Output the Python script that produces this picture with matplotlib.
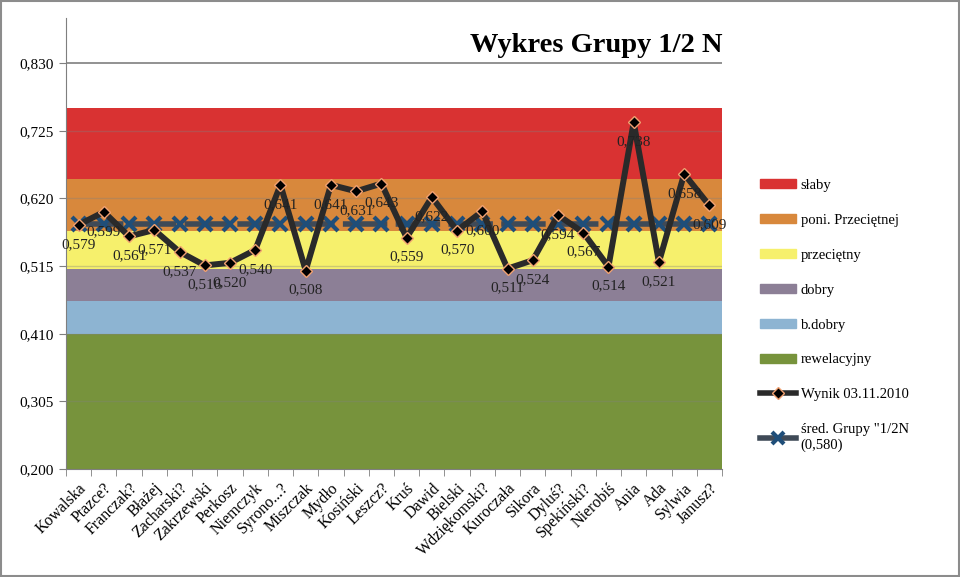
#!/usr/bin/env python3
"""
Wykres Grupy 1/2 N - wyniki na tle przedzialow ocen.
"""

import numpy as np
import matplotlib
matplotlib.use('Agg')
import matplotlib.pyplot as plt
from matplotlib.patches import Patch, Rectangle
from matplotlib.lines import Line2D

names = ['Kowalska', 'Ptazce?', 'Franczak?', 'Błażej', 'Zacharski?', 'Zakrzewski',
         'Perkosz', 'Niemczyk', 'Syrono...?', 'Miszczak', 'Mydło', 'Kosiński',
         'Leszcz?', 'Kruś', 'Dawid', 'Bielski', 'Wdziękomski?', 'Kuroczała',
         'Sikora', 'Dyluś?', 'Spekiński?', 'Nierobiś', 'Ania', 'Ada', 'Sylwia',
         'Janusz?']
wynik = [0.579, 0.599, 0.561, 0.571, 0.537, 0.516, 0.520, 0.540, 0.641, 0.508,
         0.641, 0.631, 0.643, 0.559, 0.622, 0.570, 0.600, 0.511, 0.524, 0.594,
         0.567, 0.514, 0.738, 0.521, 0.658, 0.609]
srednia = 0.580

# przedzialy ocen (od dolu do gory)
band_names = ['rewelacyjny', 'b.dobry', 'dobry', 'przeciętny', 'poni. Przeciętnej', 'słaby']
band_edges = [0.200, 0.410, 0.460, 0.510, 0.570, 0.650, 0.760]
band_colors = ['#77933c', '#8db4d2', '#8c7f96', '#f6f06c', '#d8883c', '#d93232']

y_ticks = [0.200, 0.305, 0.410, 0.515, 0.620, 0.725, 0.830]

serif = ['Liberation Serif', 'DejaVu Serif']
plt.rcParams['font.family'] = serif

fig = plt.figure(figsize=(9.6, 5.77), dpi=100)
ax = fig.add_axes([66 / 960, 1 - 469 / 577, 656 / 960, 451 / 577])

x = np.arange(len(names))
xspan = [-0.5, len(names) - 0.5]

# pasy ocen
for lo, hi, col in zip(band_edges[:-1], band_edges[1:], band_colors):
    ax.fill_between(xspan, lo, hi, color=col, linewidth=0, zorder=1)

# linie siatki
for t in y_ticks[1:]:
    if t == 0.830:
        ax.axhline(t, color='#7f7f7f', lw=1.2, zorder=2)
    else:
        ax.axhline(t, color='#808080', lw=1, alpha=0.35, zorder=2)

# srednia grupy
ax.plot(x, [srednia] * len(x), color='#3f4a57', lw=4, dashes=(8, 1.5),
        marker='x', ms=10, mew=3, mec='#1f4e79', zorder=3)

# wyniki
ax.plot(x, wynik, color='#2a2a2a', lw=4.3, marker='D', ms=6.5,
        mfc='black', mec='#f0a070', mew=1, zorder=4)

for xi, v in zip(x, wynik):
    ax.annotate(f'{v:.3f}'.replace('.', ','), (xi, v), xytext=(0, -14),
                textcoords='offset points', ha='center', va='center',
                fontsize=11, color='#222222', zorder=5)

ax.set_xlim(xspan)
ax.set_ylim(0.2, 0.9)
ax.set_yticks(y_ticks)
ax.set_yticklabels([f'{t:.3f}'.replace('.', ',') for t in y_ticks], fontsize=11)
ax.set_xticks(x)
ax.set_xticklabels(names, rotation=45, ha='right', rotation_mode='anchor', fontsize=11.5)
ax.set_xticks(np.arange(len(names) + 1) - 0.5, minor=True)
ax.tick_params(axis='x', which='major', length=0, pad=8)
ax.tick_params(axis='x', which='minor', length=5, color='#7f7f7f')
ax.tick_params(axis='y', length=5, color='#7f7f7f')

for side in ['top', 'right']:
    ax.spines[side].set_visible(False)
for side in ['left', 'bottom']:
    ax.spines[side].set_color('#7f7f7f')

ax.set_title('Wykres Grupy 1/2 N', loc='right', fontsize=20.5, fontweight='bold',
             pad=0, y=1 - 42 / 451 + 0.017)

handles = [Patch(color=c) for c in band_colors[::-1]]
labels = band_names[::-1]
handles.append(Line2D([], [], color='#2a2a2a', lw=4, marker='D', ms=6,
                      mfc='black', mec='#f0a070'))
labels.append('Wynik 03.11.2010')
handles.append(Line2D([], [], color='#3f4a57', lw=4, marker='x', ms=9, mew=3,
                      mec='#1f4e79'))
labels.append('śred. Grupy "1/2N\n(0,580)')

fig.legend(handles, labels, loc='upper left', bbox_to_anchor=(760 / 960, 1 - 179 / 577),
           frameon=False, fontsize=10.5, handlelength=2.5, handleheight=0.6,
           handletextpad=0.3, labelspacing=1.5, borderpad=0, borderaxespad=0)

fig.patches.append(Rectangle((0.001, 0.001), 0.998, 0.997, transform=fig.transFigure,
                             fill=False, edgecolor='#8c8c8c', lw=1.5))

fig.savefig('out.png', dpi=100)
